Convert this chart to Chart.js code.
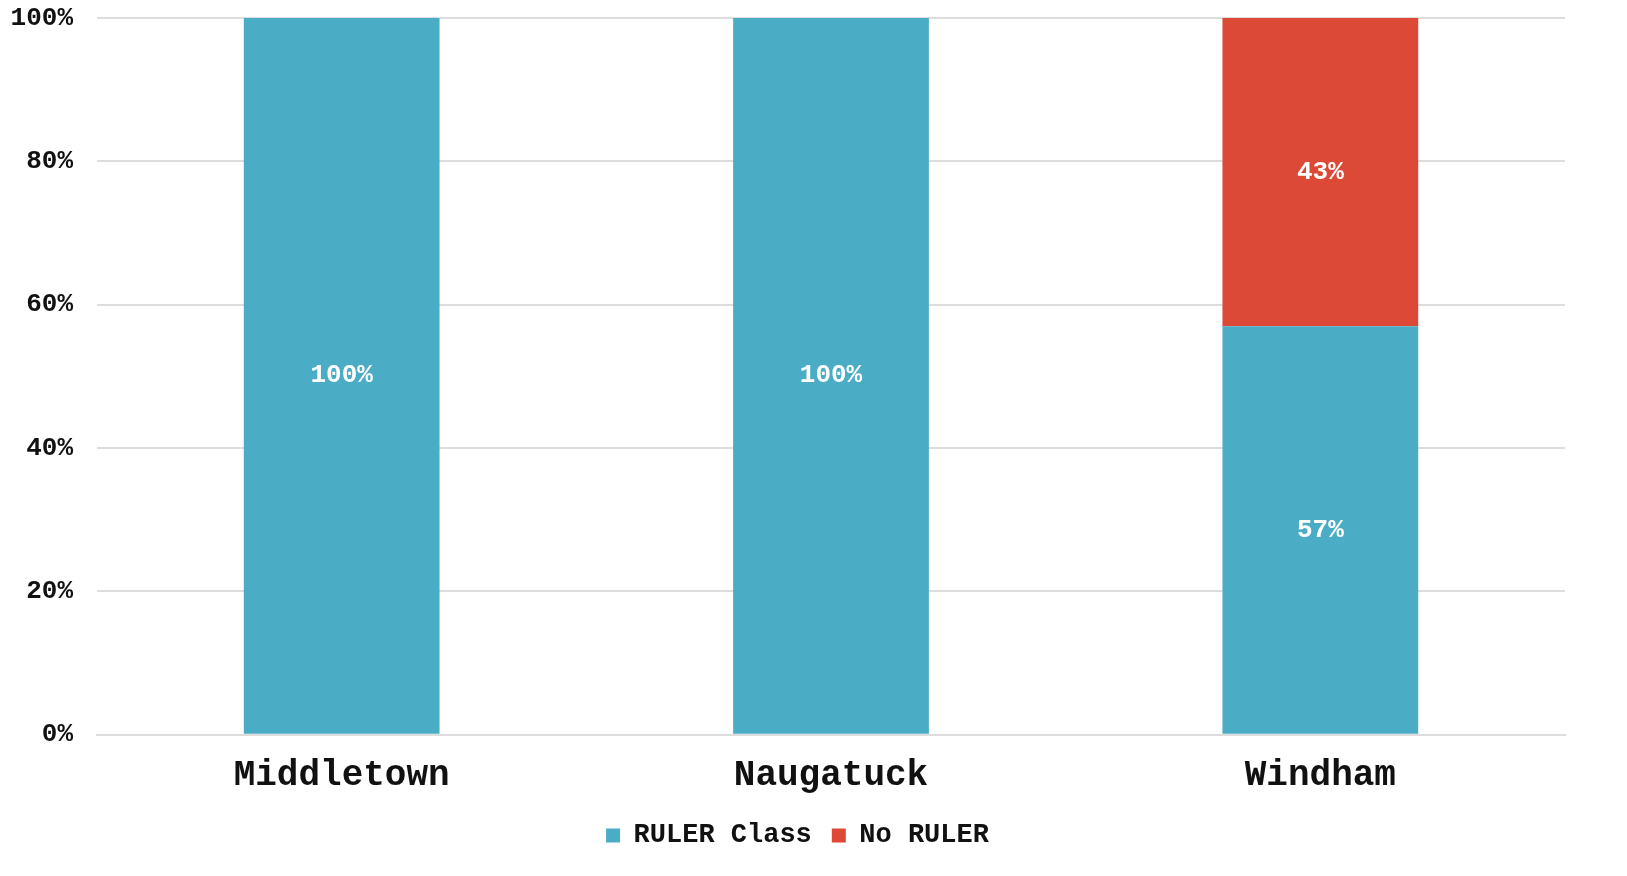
<!DOCTYPE html>
<html>
<head>
<meta charset="utf-8">
<script src="https://cdn.jsdelivr.net/npm/chart.js@4.4.1/dist/chart.umd.min.js"></script>
<style>
  html, body { margin: 0; padding: 0; background: #fff; }
  #wrap { width: 1627px; height: 876px; position: relative; }
</style>
</head>
<body>
<div id="wrap"><canvas id="chart"></canvas></div>
<script>
// data
const CATEGORIES = ["Middletown", "Naugatuck", "Windham"];
const RULER_CLASS = [100, 100, 57];
const NO_RULER = [0, 0, 43];
const Y_TICKS = [0, 20, 40, 60, 80, 100];

const FONT = "'Courier New', 'Liberation Mono', monospace";

// value labels drawn in the middle of each segment
const barLabels = {
  id: "barLabels",
  afterDatasetsDraw(chart) {
    const ctx = chart.ctx;
    ctx.save();
    ctx.fillStyle = "#fff";
    ctx.font = "bold 26px " + FONT;
    ctx.textAlign = "center";
    ctx.textBaseline = "middle";
    chart.data.datasets.forEach((ds, i) => {
      chart.getDatasetMeta(i).data.forEach((bar, j) => {
        const v = ds.data[j];
        if (!v) return;
        ctx.fillText(v + "%", bar.x, (bar.y + bar.base) / 2);
      });
    });
    ctx.restore();
  },
};

// nudge the legend a bit right, like the original
const shiftLegend = {
  id: "shiftLegend",
  afterLayout(chart) {
    chart.legend.left += 11;
    chart.legend.right += 11;
  },
};

new Chart(document.getElementById("chart"), {
  type: "bar",
  data: {
    labels: CATEGORIES,
    datasets: [
      { label: "RULER Class", data: RULER_CLASS, backgroundColor: "#4BACC6" },
      { label: "No RULER", data: NO_RULER, backgroundColor: "#DC4936" },
    ],
  },
  options: {
    responsive: true,
    maintainAspectRatio: false,
    animation: false,
    layout: { padding: { top: 18, right: 62, left: 8, bottom: 17 } },
    datasets: { bar: { categoryPercentage: 0.8, barPercentage: 0.5 } },
    plugins: {
      tooltip: { enabled: false },
      legend: {
        position: "bottom",
        labels: {
          color: "#111",
          font: { family: FONT, size: 27, weight: "bold" },
          boxWidth: 14,
          boxHeight: 14,
          padding: 20,
        },
      },
    },
    scales: {
      x: {
        stacked: true,
        grid: { display: false },
        border: { color: "#ddd", width: 2 },
        ticks: { color: "#111", font: { family: FONT, size: 36, weight: "bold" }, padding: 12 },
        afterFit: (axis) => { axis.height -= 8; },
      },
      y: {
        stacked: true,
        min: 0,
        max: 100,
        afterBuildTicks: (axis) => { axis.ticks = Y_TICKS.map((v) => ({ value: v })); },
        afterFit: (axis) => {
          axis.width = 89;
          axis.paddingTop = 0;
          axis.paddingBottom = 0;
        },
        grid: { color: "#ddd", lineWidth: 2, drawTicks: false },
        border: { display: false },
        ticks: {
          color: "#111",
          font: { family: FONT, size: 26, weight: "bold" },
          padding: 24,
          callback: (v) => v + "%",
        },
      },
    },
  },
  plugins: [barLabels, shiftLegend],
});
</script>
</body>
</html>
